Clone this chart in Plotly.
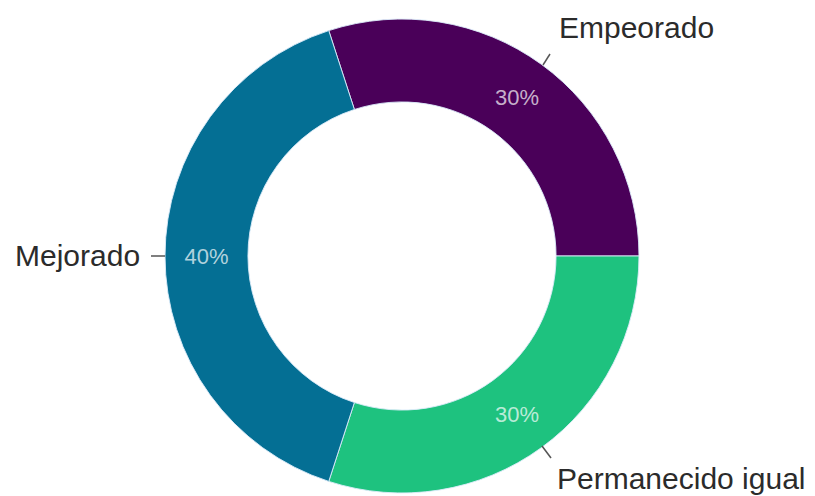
import plotly.graph_objects as go

W, H = 815, 496
OFF = 8  # page body margin offsets the figure by this many pixels

categories = ["Empeorado", "Permanecido igual", "Mejorado"]
values = [30, 30, 40]
colors = ["#4a0059", "#1ec27f", "#046f94"]

def px(x):
    return (x - OFF) / W

def py(y):
    return 1 - (y - OFF) / H

CX, CY, R = 402, 256, 237

fig = go.Figure(go.Pie(
    labels=categories,
    values=values,
    sort=False,
    direction="clockwise",
    rotation=-18,
    hole=0.65,
    marker=dict(colors=colors, line=dict(color="rgba(220,235,250,0.9)", width=1)),
    textinfo="percent",
    texttemplate="%{percent:.0%}",
    textposition="inside",
    insidetextorientation="horizontal",
    insidetextfont=dict(family="Liberation Sans, Arial, sans-serif", size=22,
                        color="rgba(255,255,255,0.7)"),
    showlegend=False,
    domain=dict(x=[px(CX - R), px(CX + R)], y=[py(CY + R), py(CY - R)]),
))

label_font = dict(family="Liberation Sans, Arial, sans-serif", size=30, color="#2b2b2b")

annotations = [
    dict(text="Empeorado", x=px(557), y=py(28), xanchor="left", yanchor="middle"),
    dict(text="Mejorado", x=px(142), y=py(255), xanchor="right", yanchor="middle"),
    dict(text="Permanecido igual", x=px(555), y=py(478), xanchor="left", yanchor="middle"),
]
for a in annotations:
    a.update(xref="paper", yref="paper", showarrow=False, font=label_font)

leaders = [
    ((543, 65), (550, 54)),
    ((151, 256), (165, 256)),
    ((542, 446), (551, 458)),
]
shapes = [
    dict(type="line", xref="paper", yref="paper",
         x0=px(a[0]), y0=py(a[1]), x1=px(b[0]), y1=py(b[1]),
         line=dict(color="#555555", width=1.5))
    for a, b in leaders
]

fig.update_layout(
    width=W, height=H,
    margin=dict(l=0, r=0, t=0, b=0),
    paper_bgcolor="white",
    plot_bgcolor="white",
    annotations=annotations,
    shapes=shapes,
)

fig.write_html("out.html")
